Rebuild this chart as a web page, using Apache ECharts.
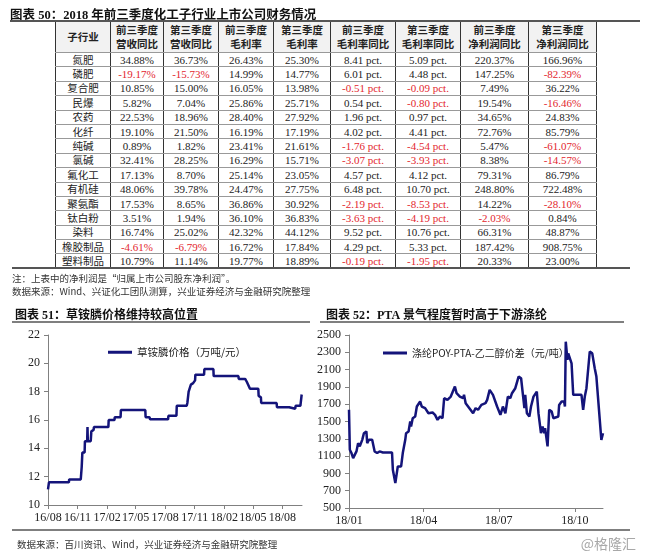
<!DOCTYPE html>
<html><head><meta charset="utf-8">
<script src="https://cdn.jsdelivr.net/npm/echarts@6/dist/echarts.min.js"></script>
<style>
html,body{margin:0;padding:0;background:#fff;width:646px;height:555px;overflow:hidden;}
#chart{position:absolute;left:0;top:0;width:646px;height:555px;z-index:1;}
.abs{position:absolute;z-index:2;}
#t50{left:10px;top:4px;font:bold 12.5px 'Liberation Serif','Noto Sans CJK SC';color:#111;white-space:nowrap;}
#rTop{left:10px;top:20px;width:630px;height:2px;background:#555;}
#rBot{left:12px;top:267px;width:618px;height:2px;background:#555;}
#tbl{left:55px;top:22px;border-collapse:collapse;table-layout:fixed;background:#fff;}
#tbl th,#tbl td{padding:0;text-align:center;border-left:1px solid #333;border-right:1px solid #333;border-bottom:1px solid #999;overflow:hidden;white-space:nowrap;}
#tbl th{background:#f2f2f2;font:bold 10.5px 'Noto Sans CJK SC';line-height:14px;height:30px;color:#222;}
#tbl td{font:11px 'Liberation Serif','Noto Sans CJK SC';line-height:12px;height:13.4px;color:#222;}
#tbl td.nm{font:10.5px 'Noto Sans CJK SC';line-height:12px;}
#tbl td.neg{color:#e3262e;}
.note{left:12px;font:9.5px 'Noto Sans CJK SC','Liberation Serif';line-height:12px;color:#333;white-space:nowrap;}
</style></head><body>
<div id="chart"></div>
<div id="t50" class="abs">图表 50：2018 年前三季度化工子行业上市公司财务情况</div>
<div id="rTop" class="abs"></div>
<table id="tbl" class="abs"></table>
<div id="rBot" class="abs"></div>
<div class="abs note" style="top:272px">注：上表中的净利润是“归属上市公司股东净利润”。</div>
<div class="abs note" style="top:285px">数据来源：Wind、兴证化工团队测算，兴业证券经济与金融研究院整理</div>
<script>
// ---------- Table 50 data ----------
const tableHeaders = ['子行业','前三季度<br>营收同比','第三季度<br>营收同比','前三季度<br>毛利率','第三季度<br>毛利率','前三季度<br>毛利率同比','第三季度<br>毛利率同比','前三季度<br>净利润同比','第三季度<br>净利润同比'];
const subIndustries = ['氮肥','磷肥','复合肥','民爆','农药','化纤','纯碱','氯碱','氟化工','有机硅','聚氨酯','钛白粉','染料','橡胶制品','塑料制品'];
const revYoYYtd = [34.88,-19.17,10.85,5.82,22.53,19.10,0.89,32.41,17.13,48.06,17.53,3.51,16.74,-4.61,10.79];
const revYoYQ3  = [36.73,-15.73,15.00,7.04,18.96,21.50,1.82,28.25,8.70,39.78,8.65,1.94,25.02,-6.79,11.14];
const gmYtd     = [26.43,14.99,16.05,25.86,28.40,16.19,23.41,16.29,25.14,24.47,36.86,36.10,42.32,16.72,19.77];
const gmQ3      = [25.30,14.77,13.98,25.71,27.92,17.19,21.61,15.71,23.05,27.75,30.92,36.83,44.12,17.84,18.89];
const gmChgYtd  = [8.41,6.01,-0.51,0.54,1.96,4.02,-1.76,-3.07,4.57,6.48,-2.19,-3.63,9.52,4.29,-0.19];
const gmChgQ3   = [5.09,4.48,-0.09,-0.80,0.97,4.41,-4.54,-3.93,4.12,10.70,-8.53,-4.19,10.76,5.33,-1.95];
const npYoYYtd  = [220.37,147.25,7.49,19.54,34.65,72.76,5.47,8.38,79.31,248.80,14.22,-2.03,66.31,187.42,20.33];
const npYoYQ3   = [166.96,-82.39,36.22,-16.46,24.83,85.79,-61.07,-14.57,86.79,722.48,-28.10,0.84,48.87,908.75,23.00];

// ---------- Chart 51 data: 草铵膦价格 ----------
const glufDates = ['2016-08-01','2016-08-04','2016-10-05','2016-10-06','2016-11-11','2016-11-14','2016-11-16','2016-11-23','2016-11-24','2016-12-01','2016-12-02','2016-12-03','2016-12-12','2016-12-14','2016-12-21','2016-12-22','2017-02-05','2017-02-06','2017-02-24','2017-02-25','2017-03-15','2017-03-16','2017-05-31','2017-06-01','2017-06-13','2017-06-15','2017-08-10','2017-08-11','2017-09-05','2017-09-06','2017-10-07','2017-10-09','2017-10-12','2017-10-13','2017-10-19','2017-10-20','2017-10-27','2017-10-28','2017-11-02','2017-11-03','2017-11-30','2017-12-01','2017-12-29','2017-12-30','2018-03-17','2018-03-18','2018-04-07','2018-04-12','2018-04-15','2018-04-22','2018-05-18','2018-05-19','2018-05-26','2018-05-27','2018-07-14','2018-07-15','2018-08-22','2018-08-23','2018-09-10','2018-09-11','2018-09-26','2018-09-30'];
const glufPrice = [11.1,11.6,11.6,11.8,11.8,12.7,13.7,13.7,14.5,14.5,15.5,14.5,14.5,15.2,15.3,15.5,15.5,16.0,16.0,16.2,16.2,16.7,16.7,16.2,16.2,16.05,16.05,16.3,16.3,17.0,17.0,17.2,17.2,18.0,18.1,18.5,18.6,18.7,18.8,19.2,19.2,19.6,19.6,19.1,19.1,18.9,18.9,18.7,18.6,18.2,18.2,17.7,17.6,17.2,17.2,16.9,16.9,16.8,16.8,17.0,17.0,17.8];
const glufTicks = ['2016-08-01','2016-11-01','2017-02-01','2017-05-01','2017-08-01','2017-11-01','2018-02-01','2018-05-01','2018-08-01'];

// ---------- Chart 52 data: 涤纶POY-PTA-乙二醇价差 ----------
const spreadDates = ['2018-01-01','2018-01-02','2018-01-04','2018-01-06','2018-01-08','2018-01-10','2018-01-12','2018-01-14','2018-01-15','2018-01-17','2018-01-19','2018-01-22','2018-01-23','2018-01-25','2018-01-27','2018-01-29','2018-02-01','2018-02-04','2018-02-07','2018-02-11','2018-02-22','2018-02-23','2018-02-26','2018-02-27','2018-03-01','2018-03-05','2018-03-07','2018-03-10','2018-03-11','2018-03-14','2018-03-16','2018-03-17','2018-03-19','2018-03-22','2018-03-24','2018-03-28','2018-03-30','2018-04-03','2018-04-07','2018-04-12','2018-04-15','2018-04-18','2018-04-21','2018-04-24','2018-04-26','2018-04-30','2018-05-04','2018-05-06','2018-05-09','2018-05-11','2018-05-15','2018-05-19','2018-05-20','2018-05-22','2018-05-31','2018-06-03','2018-06-06','2018-06-10','2018-06-15','2018-06-17','2018-06-20','2018-06-24','2018-06-29','2018-07-03','2018-07-06','2018-07-09','2018-07-12','2018-07-15','2018-07-17','2018-07-21','2018-07-25','2018-07-28','2018-07-30','2018-08-01','2018-08-02','2018-08-04','2018-08-07','2018-08-09','2018-08-12','2018-08-16','2018-08-18','2018-08-21','2018-08-23','2018-08-25','2018-08-26','2018-08-29','2018-08-31','2018-09-03','2018-09-05','2018-09-11','2018-09-12','2018-09-15','2018-09-18','2018-09-19','2018-09-20','2018-09-22','2018-09-23','2018-09-25','2018-09-27','2018-09-29','2018-10-09','2018-10-11','2018-10-13','2018-10-15','2018-10-17','2018-10-19','2018-10-22','2018-10-25','2018-10-27','2018-10-29','2018-11-02','2018-11-03','2018-11-04'];
const spreadValue = [1635,1173,1135,1077,1096,1154,1250,1212,1192,1288,1365,1385,1250,1288,1308,1288,1154,1135,1154,1142,1142,942,788,769,981,981,1135,1288,1365,1385,1500,1442,1538,1558,1673,1731,1673,1654,1596,1604,1577,1519,1558,1538,1769,1750,1788,1769,1904,1827,1788,1769,1808,1712,1596,1654,1635,1692,1712,1750,1865,1808,1673,1577,1673,1596,1788,1769,1827,1885,2019,2000,1827,1654,1808,1596,1558,1673,1788,1846,1596,1365,1442,1365,1423,1212,1635,1615,1538,1558,1692,1731,1731,1673,2423,2212,2288,2288,2173,1808,1808,1635,1788,1885,1904,2308,2288,2115,2019,2019,1288,1269,1365];
const spreadTicks = ['2018-01-01','2018-04-01','2018-07-01','2018-10-01'];

// ---------- build table ----------
const cols = [55,53,55,55,57,65,65,68,68];
const tbl = document.getElementById('tbl');
let html = '<colgroup>' + cols.map(w=>'<col style="width:'+w+'px">').join('') + '</colgroup>';
html += '<tr>' + tableHeaders.map(h=>'<th>'+h+'</th>').join('') + '</tr>';
const pct = v => v.toFixed(2)+'%';
const pt = v => v.toFixed(2)+' pct.';
const numCols = [[revYoYYtd,pct],[revYoYQ3,pct],[gmYtd,pct],[gmQ3,pct],[gmChgYtd,pt],[gmChgQ3,pt],[npYoYYtd,pct],[npYoYQ3,pct]];
subIndustries.forEach((n,i)=>{
  html += '<tr><td class="nm">'+n+'</td>' + numCols.map(([arr,f])=>'<td class="'+(arr[i]<0?'neg':'')+'">'+f(arr[i])+'</td>').join('') + '</tr>';
});
tbl.innerHTML = html;

// ---------- charts ----------
const ts = s => { const p = s.split('-').map(Number); return new Date(p[0],p[1]-1,p[2]).getTime(); };
const fmt = v => { const d = new Date(v); return String(d.getFullYear()).slice(2)+'/'+String(d.getMonth()+1).padStart(2,'0'); };
const LINE = '#14147a';
const AX = '#808080';
const numFont = {fontFamily:'Liberation Serif', fontSize:12, color:'#222'};
const cjk = "'Liberation Serif','Noto Sans CJK SC'";

function xAx(gi, min, max, ticks){
  const tv = ticks.map(ts);
  return {type:'value', gridIndex:gi, min:ts(min), max:ts(max), scale:true,
    axisLine:{show:true, onZero:false, lineStyle:{color:AX,width:1}},
    axisTick:{show:true, customValues:tv, length:4, lineStyle:{color:AX}},
    axisLabel:Object.assign({customValues:tv, formatter:fmt, margin:7}, numFont),
    splitLine:{show:false}};
}
function yAx(gi, min, max, interval){
  return {type:'value', gridIndex:gi, min:min, max:max, interval:interval,
    axisLine:{show:true, lineStyle:{color:AX,width:1}},
    axisTick:{show:true, length:4, lineStyle:{color:AX}},
    axisLabel:Object.assign({margin:8, formatter:v=>String(v)}, numFont),
    splitLine:{show:false}};
}

const chart = echarts.init(document.getElementById('chart'));
chart.setOption({
  animation:false,
  backgroundColor:'#fff',
  title:[
    {text:'图表 51：草铵膦价格维持较高位置', left:10, top:305, textStyle:{fontFamily:cjk, fontSize:12, fontWeight:'bold', color:'#111'}},
    {text:'图表 52：PTA 景气程度暂时高于下游涤纶', left:321, top:305, textStyle:{fontFamily:cjk, fontSize:12, fontWeight:'bold', color:'#111'}},
    {text:'数据来源：百川资讯、Wind，兴业证券经济与金融研究院整理', left:12, top:535, textStyle:{fontFamily:"'Noto Sans CJK SC'", fontSize:9.5, fontWeight:'normal', color:'#333'}},
    {text:'@格隆汇', right:5, top:532, textStyle:{fontFamily:"'Noto Sans CJK SC'", fontSize:14, fontWeight:'normal', color:'#a8a8a8'}}
  ],
  graphic:[
    {type:'line', shape:{x1:12,y1:322,x2:310,y2:322}, style:{stroke:'#555',lineWidth:1.5}},
    {type:'line', shape:{x1:320,y1:322,x2:624,y2:322}, style:{stroke:'#555',lineWidth:1.5}},
    {type:'line', shape:{x1:12,y1:530,x2:630,y2:530}, style:{stroke:'#555',lineWidth:1.5}}
  ],
  legend:[
    {data:['草铵膦价格（万吨/元）'], left:103, top:342, icon:'rect', itemWidth:24, itemHeight:3, textStyle:{fontFamily:"'Noto Sans CJK SC'", fontSize:10.5, color:'#222'}},
    {data:['涤纶POY-PTA-乙二醇价差（元/吨）'], left:378, top:343, icon:'rect', itemWidth:24, itemHeight:3, textStyle:{fontFamily:"'Noto Sans CJK SC'", fontSize:10, color:'#222'}}
  ],
  grid:[
    {left:48, top:335, width:254, height:170},
    {left:349, top:335, width:254, height:173}
  ],
  xAxis:[xAx(0,'2016-08-01','2018-10-01',glufTicks), xAx(1,'2018-01-01','2018-11-04',spreadTicks)],
  yAxis:[yAx(0,10,22,2), yAx(1,500,2500,200)],
  series:[
    {name:'草铵膦价格（万吨/元）', type:'line', xAxisIndex:0, yAxisIndex:0, showSymbol:false, symbol:'none',
     lineStyle:{color:LINE,width:2.5}, itemStyle:{color:LINE},
     data:glufDates.map((d,i)=>[ts(d),glufPrice[i]])},
    {name:'涤纶POY-PTA-乙二醇价差（元/吨）', type:'line', xAxisIndex:1, yAxisIndex:1, showSymbol:false, symbol:'none',
     lineStyle:{color:LINE,width:2.5}, itemStyle:{color:LINE},
     data:spreadDates.map((d,i)=>[ts(d),spreadValue[i]])}
  ]
});
</script>
</body></html>
